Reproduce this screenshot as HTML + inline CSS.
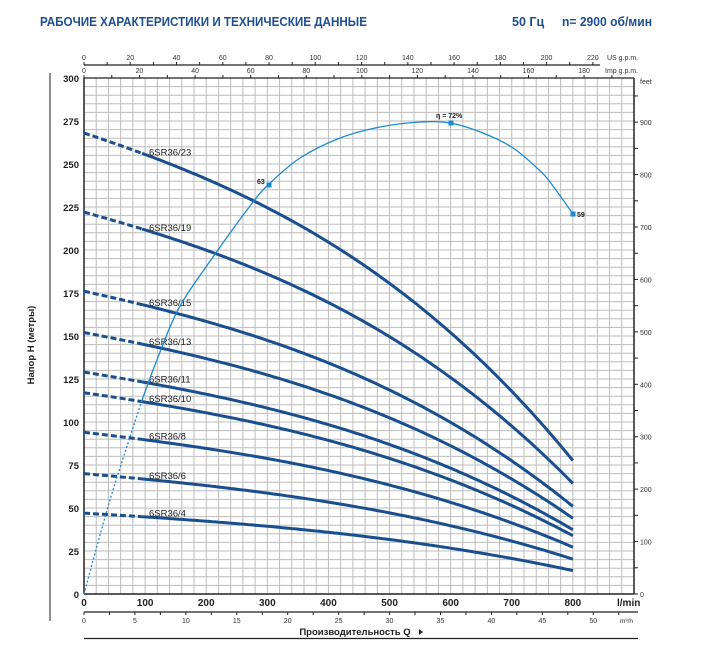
<!DOCTYPE html>
<html><head><meta charset="utf-8"><style>
body{margin:0;background:#fff;}
svg{display:block;font-family:"Liberation Sans","DejaVu Sans",sans-serif;}
</style></head><body>
<svg id="s" width="710" height="663" viewBox="0 0 710 663" xmlns="http://www.w3.org/2000/svg">
<text x="40" y="26" font-size="12.5" font-weight="bold" fill="#1d4f91" textLength="327" lengthAdjust="spacingAndGlyphs">РАБОЧИЕ ХАРАКТЕРИСТИКИ И ТЕХНИЧЕСКИЕ ДАННЫЕ</text>
<text x="512" y="26" font-size="12.5" font-weight="bold" fill="#1d4f91">50 Гц</text>
<text x="562" y="26" font-size="12.5" font-weight="bold" fill="#1d4f91" textLength="90" lengthAdjust="spacingAndGlyphs">n= 2900 об/мин</text>
<line x1="50" y1="73" x2="50" y2="621" stroke="#222" stroke-width="1"/>
<g id="grid"></g>
<g id="axes"></g>
<g id="curves"></g>
<text transform="translate(34,345) rotate(-90)" font-size="9.5" font-weight="bold" fill="#222" text-anchor="middle">Напор H (метры)</text>
<text x="355" y="635" font-size="9.5" font-weight="bold" fill="#222" text-anchor="middle">Производительность Q</text>
<polygon points="419,629 423,632 419,635" fill="#222"/>
<line x1="84" y1="638.5" x2="638" y2="638.5" stroke="#222" stroke-width="1.2"/>
</svg>
<script>
const NS="http://www.w3.org/2000/svg";
function el(p,t,a,txt){const e=document.createElementNS(NS,t);for(const k in a)e.setAttribute(k,a[k]);if(txt!==undefined)e.textContent=txt;document.getElementById(p).appendChild(e);return e;}
const X=q=>84+q*0.61111, Y=h=>594-h*1.72;
for(let i=1;i<=45;i++){const x=84+i*12.222;el("grid","line",{x1:x,y1:78,x2:x,y2:594,stroke:"#bdbdbd","stroke-width":1});}
for(let i=1;i<60;i++){const y=594-i*8.6;el("grid","line",{x1:84,y1:y,x2:634,y2:y,stroke:"#bdbdbd","stroke-width":1});}
el("axes","line",{x1:84,y1:78,x2:634,y2:78,stroke:"#222","stroke-width":1.3});
el("axes","line",{x1:84,y1:594,x2:634,y2:594,stroke:"#222","stroke-width":1.5});
el("axes","line",{x1:84,y1:78,x2:84,y2:594,stroke:"#222","stroke-width":1.5});
el("axes","line",{x1:634,y1:78,x2:634,y2:594,stroke:"#222","stroke-width":1.5});
for(let h=0;h<=300;h+=25){el("axes","text",{x:79,y:Y(h)+4,"font-size":9.5,"font-weight":"bold","text-anchor":"end",fill:"#222"},h);}
for(let f=0;f<=950;f+=50){const y=594-f*0.3048*1.72;el("axes","line",{x1:634,y1:y,x2:638,y2:y,stroke:"#222"});
 if(f%100==0)el("axes","text",{x:640,y:y+3,"font-size":7,fill:"#333"},f);}
el("axes","text",{x:640,y:84,"font-size":7,fill:"#333"},"feet");
for(let q=0;q<=800;q+=100){el("axes","text",{x:X(q),y:606,"font-size":10,"font-weight":"bold","text-anchor":"middle",fill:"#222"},q);}
el("axes","text",{x:617,y:606,"font-size":10,"font-weight":"bold",fill:"#222"},"l/min");
el("axes","line",{x1:84,y1:612,x2:638,y2:612,stroke:"#222","stroke-width":1.2});
for(let m=0;m<=52.5;m+=2.5){const x=X(m*16.667);el("axes","line",{x1:x,y1:612,x2:x,y2:615,stroke:"#222"});
 if(m%5==0&&m<=50)el("axes","text",{x:x,y:623,"font-size":7,"text-anchor":"middle",fill:"#333"},m);}
el("axes","text",{x:620,y:623,"font-size":6.5,fill:"#333"},"m³/h");
el("axes","line",{x1:84,y1:65,x2:600,y2:65,stroke:"#222","stroke-width":1.2});
for(let g=0;g<=220;g+=10){const x=X(g*3.785);el("axes","line",{x1:x,y1:62,x2:x,y2:65,stroke:"#222"});
 if(g%20==0)el("axes","text",{x:x,y:60,"font-size":7,"text-anchor":"middle",fill:"#333"},g);}
el("axes","text",{x:607,y:60,"font-size":7,fill:"#333"},"US g.p.m.");
for(let g=0;g<=190;g+=10){const x=X(g*4.546);if(x>634)break;el("axes","line",{x1:x,y1:75,x2:x,y2:78,stroke:"#222"});
 if(g%20==0)el("axes","text",{x:x,y:73,"font-size":7,"text-anchor":"middle",fill:"#333"},g);}
el("axes","text",{x:605,y:73,"font-size":7,fill:"#333"},"Imp g.p.m.");
const f=q=>{q/=100;return 1-0.044*q-0.002*q*q-0.00045*q*q*q;};
const pumps=[[23,268],[19,222],[15,176],[13,152],[11,129],[10,117],[8,94],[6,70],[4,47]];
for(const [n,h0] of pumps){
 let d="",s="";
 for(let q=0;q<=95;q+=5)d+=(q?"L":"M")+X(q).toFixed(1)+","+Y(h0*f(q)).toFixed(1);
 for(let q=95;q<=800;q+=5)s+=(q>95?"L":"M")+X(q).toFixed(1)+","+Y(h0*f(q)).toFixed(1);
 el("curves","path",{d:d,fill:"none",stroke:"#1a4f8f","stroke-width":3,"stroke-dasharray":"6,3"});
 el("curves","path",{d:s,fill:"none",stroke:"#1a4f8f","stroke-width":3});
 el("curves","text",{x:149,y:(Y(h0*f(110))-1).toFixed(1),"font-size":9.5,fill:"#222"},"6SR36/"+n);
}
function cr(p){let d="M"+p[0][0]+","+p[0][1];for(let i=0;i<p.length-1;i++){const p0=p[i-1]||p[i],p1=p[i],p2=p[i+1],p3=p[i+2]||p2;
 d+=`C${p1[0]+(p2[0]-p0[0])/6},${p1[1]+(p2[1]-p0[1])/6} ${p2[0]-(p3[0]-p1[0])/6},${p2[1]-(p3[1]-p1[1])/6} ${p2[0]},${p2[1]}`;}return d;}
el("curves","path",{d:cr([[84,594],[110,500],[142,400]]),fill:"none",stroke:"#1a8ad4","stroke-width":1.3,"stroke-dasharray":"2,2"});
el("curves","path",{d:cr([[142,400],[160,352],[180,306],[213,257],[250,206],[268,185],[300,158],[340,138],[380,127],[420,122],[450,123],[483,133],[513,148],[537,168],[550,182],[573,214]]),fill:"none",stroke:"#1a8ad4","stroke-width":1.3});
for(const [x,y] of [[269,185],[451,123],[573,214]])el("curves","rect",{x:x-2.5,y:y-2.5,width:5,height:5,fill:"#1a8ad4"});
el("curves","text",{x:257,y:184,"font-size":7,"font-weight":"bold",fill:"#222"},"63");
el("curves","text",{x:436,y:118,"font-size":7,"font-weight":"bold",fill:"#222"},"η = 72%");
el("curves","text",{x:577,y:217,"font-size":7,"font-weight":"bold",fill:"#222"},"59");
</script>
</body></html>
